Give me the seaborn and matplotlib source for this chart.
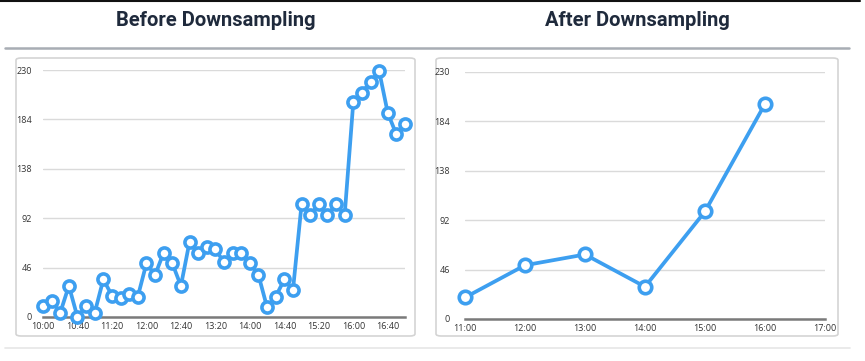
import numpy as np
import pandas as pd
import matplotlib.pyplot as plt
import seaborn as sns
from matplotlib.patches import FancyBboxPatch
from matplotlib.lines import Line2D

# ── data ────────────────────────────────────────────────────────────────
before_times = pd.date_range("10:00", "17:00", freq="10min").strftime("%H:%M").tolist()
before_values = [10, 15, 4, 29, 0, 10, 4, 35, 20, 18, 21, 19, 50, 39, 60, 50,
                 29, 70, 60, 65, 63, 51, 60, 60, 50, 39, 9, 19, 35, 25,
                 105, 95, 105, 95, 105, 95, 200, 209, 219, 229, 190, 170, 180]
after_times = ["11:00", "12:00", "13:00", "14:00", "15:00", "16:00"]
after_values = [20, 50, 60, 30, 100, 200]
y_ticks = [0, 46, 92, 138, 184, 230]
before_xticks = ["10:00", "10:40", "11:20", "12:00", "12:40", "13:20",
                 "14:00", "14:40", "15:20", "16:00", "16:40"]
after_xticks = ["11:00", "12:00", "13:00", "14:00", "15:00", "16:00", "17:00"]
titles = ["Before Downsampling", "After Downsampling"]

BLUE = "#3d9ff0"
W, H = 865, 361


def minutes(labels):
    # minutes after midnight
    return (pd.to_timedelta([t + ":00" for t in labels]).total_seconds() / 60).to_numpy()


def px_axes(fig, x0, x1, y_top, y_bot):
    return fig.add_axes([x0 / W, (H - y_bot) / H, (x1 - x0) / W, (y_bot - y_top) / H])


def panel_box(fig, x0, x1, y_top, y_bot):
    box = FancyBboxPatch((x0 / W, (H - y_bot) / H), (x1 - x0) / W, (y_bot - y_top) / H,
                         boxstyle="round,pad=0,rounding_size=0.006",
                         transform=fig.transFigure, facecolor="white",
                         edgecolor="#d4d4d4", linewidth=1.2, zorder=-1)
    fig.patches.append(box)


def draw(ax, times, values, xticks, xlim, msize, pad):
    df = pd.DataFrame({"t": minutes(times), "v": values})
    sns.lineplot(data=df, x="t", y="v", ax=ax, color=BLUE, linewidth=2.7,
                 marker="o", markersize=msize, markerfacecolor="white",
                 markeredgecolor=BLUE, markeredgewidth=2.6, clip_on=False, zorder=3)
    ax.set_xlim(*xlim)
    ax.set_ylim(0, 230)
    ax.set_yticks(y_ticks)
    ax.set_xticks(minutes(xticks))
    ax.set_xticklabels(xticks)
    ax.set_xlabel("")
    ax.set_ylabel("")
    ax.grid(axis="y", color="#dadada", linewidth=1.0)
    ax.grid(axis="x", visible=False)
    ax.set_axisbelow(True)
    for s in ["top", "right", "left"]:
        ax.spines[s].set_visible(False)
    ax.spines["bottom"].set_color("#7a7a7a")
    ax.spines["bottom"].set_linewidth(1.8)
    ax.spines["bottom"].set_zorder(2)
    ax.tick_params(axis="both", length=0, labelsize=6.5, labelcolor="#333333")
    ax.tick_params(axis="y", pad=pad)
    ax.tick_params(axis="x", pad=3.5)
    ax.set_facecolor("none")


sns.set_theme(style="white")
plt.rcParams["font.family"] = ["Open Sans", "DejaVu Sans"]

fig = plt.figure(figsize=(W / 100, H / 100), dpi=100)

# frame lines
fig.add_artist(Line2D([0, 860 / W], [1 - 1 / H, 1 - 1 / H], color="#111111", linewidth=1.5))
fig.add_artist(Line2D([5 / W, 849 / W], [1 - 48 / H, 1 - 48 / H], color="#a8adb4", linewidth=1.8))
fig.add_artist(Line2D([5 / W, 850 / W], [1 - 347.5 / H, 1 - 347.5 / H], color="#e6e6e6", linewidth=1.2))

panel_box(fig, 16, 415, 58, 336)
panel_box(fig, 436, 838, 58, 336)

ax1 = px_axes(fig, 43, 405, 70, 317)
draw(ax1, before_times, before_values, before_xticks, (600, 1020), 8.0, 8)

ax2 = px_axes(fig, 465, 825, 71.7, 319)
draw(ax2, after_times, after_values, after_xticks, (660, 1020), 9.0, 11)

for cx, title in zip([216, 637], titles):
    fig.text(cx / W, 1 - 20 / H, title, ha="center", va="center", fontsize=14.5,
             fontweight="bold", color="#1f2a3c", family=["Roboto", "DejaVu Sans"])

fig.savefig("out.png", dpi=100)
